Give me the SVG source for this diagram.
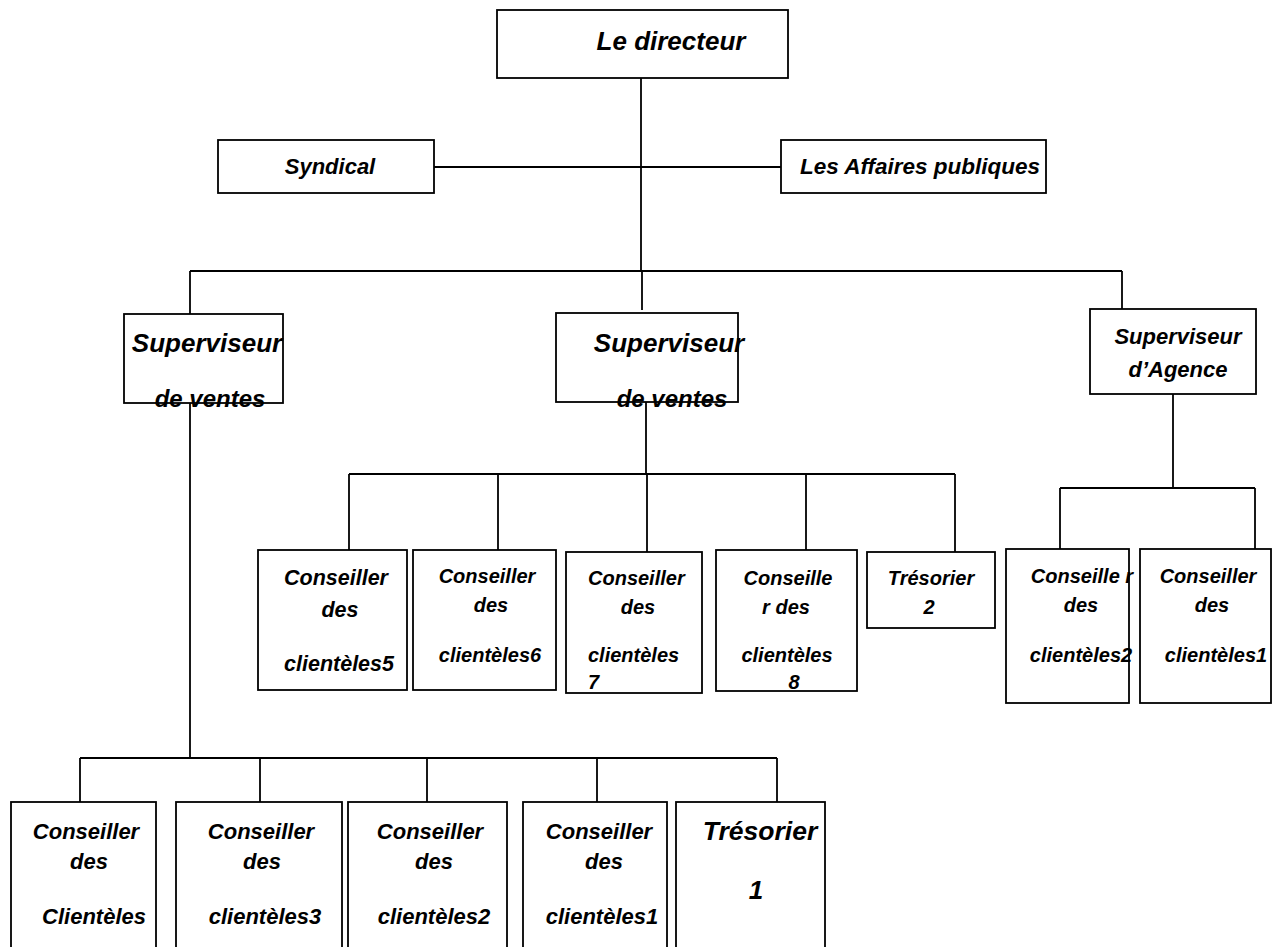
<svg xmlns="http://www.w3.org/2000/svg" width="1273" height="947" viewBox="0 0 1273 947">
<style>
rect{fill:#fff;stroke:#000;stroke-width:1.8}
.c line{stroke:#000;stroke-width:1.8}
text{font-family:"Liberation Sans",Arial,sans-serif;font-weight:bold;font-style:italic;fill:#000;text-anchor:middle}
.s20{font-size:20px}.s22{font-size:22px}.s26{font-size:26px}
.l{text-anchor:start}
</style>
<rect x="0" y="0" width="1273" height="947" style="stroke:none"/>
<g class="c" id="connectors">
<line x1="641" y1="78" x2="641" y2="271"/>
<line x1="434" y1="167" x2="781" y2="167"/>
<line x1="190" y1="271" x2="1122" y2="271"/>
<line x1="190" y1="271" x2="190" y2="314"/>
<line x1="642" y1="271" x2="642" y2="310"/>
<line x1="1122" y1="271" x2="1122" y2="309"/>
<line x1="646" y1="402" x2="646" y2="474"/>
<line x1="349" y1="474" x2="955" y2="474"/>
<line x1="349" y1="474" x2="349" y2="550"/>
<line x1="498" y1="474" x2="498" y2="550"/>
<line x1="647" y1="474" x2="647" y2="552"/>
<line x1="806" y1="474" x2="806" y2="550"/>
<line x1="955" y1="474" x2="955" y2="552"/>
<line x1="1173" y1="394" x2="1173" y2="488"/>
<line x1="1060" y1="488" x2="1255" y2="488"/>
<line x1="1060" y1="488" x2="1060" y2="549"/>
<line x1="1255" y1="488" x2="1255" y2="549"/>
<line x1="190" y1="403" x2="190" y2="758"/>
<line x1="80" y1="758" x2="777" y2="758"/>
<line x1="80" y1="758" x2="80" y2="802"/>
<line x1="260" y1="758" x2="260" y2="802"/>
<line x1="427" y1="758" x2="427" y2="802"/>
<line x1="597" y1="758" x2="597" y2="802"/>
<line x1="777" y1="758" x2="777" y2="802"/>
</g>
<g id="directeur"><rect x="497" y="10" width="291" height="68"/><text class="s26" x="671" y="50">Le directeur</text></g>
<g id="syndical"><rect x="218" y="140" width="216" height="53"/><text class="s22" x="330" y="174">Syndical</text></g>
<g id="affaires"><rect x="781" y="140" width="265" height="53"/><text x="920" y="174" style="font-size:22.5px">Les Affaires publiques</text></g>
<g id="superviseur1"><rect x="124" y="314" width="159" height="89"/><text class="s26" x="207" y="352">Superviseur</text><text x="210" y="407" style="font-size:24px">de ventes</text></g>
<g id="superviseur2"><rect x="556" y="313" width="182" height="89"/><text class="s26" x="669" y="352">Superviseur</text><text x="672" y="407" style="font-size:24px">de ventes</text></g>
<g id="superviseur-agence"><rect x="1090" y="309" width="166" height="85"/><text class="s22" x="1178" y="344">Superviseur</text><text class="s22" x="1178" y="377">d’Agence</text></g>
<g id="conseiller5"><rect x="258" y="550" width="149" height="140"/><text x="336" y="585" style="font-size:21.5px">Conseiller</text><text x="340" y="617" style="font-size:21.5px">des</text><text x="339" y="671" style="font-size:21.5px">clientèles5</text></g>
<g id="conseiller6"><rect x="413" y="550" width="143" height="140"/><text class="s20" x="487" y="583">Conseiller</text><text class="s20" x="491" y="612">des</text><text class="s20" x="490" y="662">clientèles6</text></g>
<g id="conseiller7"><rect x="566" y="552" width="136" height="141"/><text class="s20 l" x="588" y="585">Conseiller</text><text class="s20" x="638" y="614">des</text><text class="s20 l" x="588" y="662">clientèles</text><text class="s20 l" x="588" y="689">7</text></g>
<g id="conseiller8"><rect x="716" y="550" width="141" height="141"/><text class="s20" x="788" y="585">Conseille</text><text class="s20" x="786" y="614">r des</text><text class="s20" x="787" y="662">clientèles</text><text class="s20" x="794" y="689">8</text></g>
<g id="tresorier2"><rect x="867" y="552" width="128" height="76"/><text class="s20" x="931" y="585">Trésorier</text><text class="s20" x="929" y="614">2</text></g>
<g id="agence-conseiller2"><rect x="1006" y="549" width="123" height="154"/><text class="s20" x="1082" y="583">Conseille r</text><text class="s20" x="1081" y="612">des</text><text class="s20" x="1081" y="662">clientèles2</text></g>
<g id="agence-conseiller1"><rect x="1140" y="549" width="131" height="154"/><text class="s20" x="1208" y="583">Conseiller</text><text class="s20" x="1212" y="612">des</text><text class="s20" x="1216" y="662">clientèles1</text></g>
<g id="conseiller-c"><rect x="11" y="802" width="145" height="160"/><text class="s22" x="86" y="839">Conseiller</text><text class="s22" x="89" y="869">des</text><text class="s22" x="94" y="924">Clientèles</text></g>
<g id="conseiller3"><rect x="176" y="802" width="166" height="160"/><text class="s22" x="261" y="839">Conseiller</text><text class="s22" x="262" y="869">des</text><text class="s22" x="265" y="924">clientèles3</text></g>
<g id="conseiller2"><rect x="348" y="802" width="159" height="160"/><text class="s22" x="430" y="839">Conseiller</text><text class="s22" x="434" y="869">des</text><text class="s22" x="434" y="924">clientèles2</text></g>
<g id="conseiller1"><rect x="523" y="802" width="144" height="160"/><text class="s22" x="599" y="839">Conseiller</text><text class="s22" x="604" y="869">des</text><text class="s22" x="602" y="924">clientèles1</text></g>
<g id="tresorier1"><rect x="676" y="802" width="149" height="160"/><text x="760" y="840" style="font-size:26.5px">Trésorier</text><text class="s26" x="756" y="899">1</text></g>
</svg>
